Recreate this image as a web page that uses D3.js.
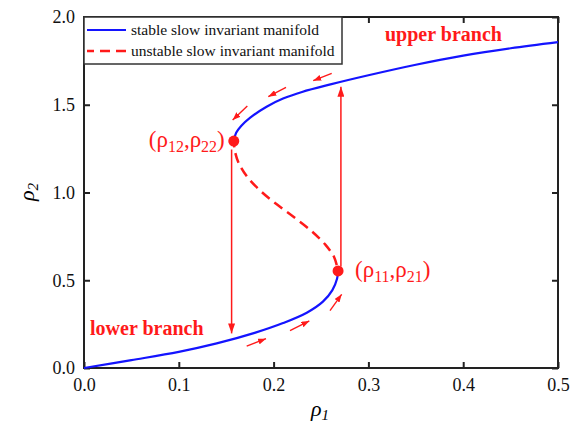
<!DOCTYPE html>
<html>
<head>
<meta charset="utf-8">
<script src="https://cdn.jsdelivr.net/npm/d3@7"></script>
<style>
  body { margin: 0; background: #fff; }
  text { font-family: "Liberation Serif", "Times New Roman", serif; }
</style>
</head>
<body>
<svg id="chart" width="583" height="426" font-family="Liberation Serif, serif"></svg>
<script>
// Lower stable branch of the slow invariant manifold (ρ1, ρ2)
const lowerRho1 = [0, 0.05, 0.10, 0.14, 0.18, 0.21, 0.235, 0.252, 0.262, 0.267, 0.268];
const lowerRho2 = [0, 0.045, 0.092, 0.140, 0.200, 0.256, 0.315, 0.378, 0.444, 0.510, 0.553];

// Unstable middle branch, from the lower fold to the upper fold
const unstableRho1 = [0.268, 0.264, 0.255, 0.240, 0.222, 0.204, 0.187, 0.172, 0.163, 0.159, 0.158];
const unstableRho2 = [0.553, 0.630, 0.700, 0.780, 0.857, 0.930, 1.005, 1.090, 1.170, 1.240, 1.293];

// Upper stable branch
const upperRho1 = [0.158, 0.1605, 0.166, 0.175, 0.1926, 0.21, 0.23, 0.26, 0.30, 0.35, 0.40, 0.45, 0.50];
const upperRho2 = [1.293, 1.340, 1.380, 1.425, 1.489, 1.535, 1.573, 1.616, 1.668, 1.728, 1.780, 1.822, 1.857];

// Fold points (ρ11, ρ21) and (ρ12, ρ22)
const foldRho1 = [0.268, 0.158];
const foldRho2 = [0.553, 1.293];

// Jumps between branches: ρ1, ρ2 start, ρ2 end
const jumpRho1 = [0.1557, 0.271];
const jumpFrom = [1.245, 0.578];
const jumpTo   = [0.197, 1.603];

// Short direction arrows along the stable branches: (x0, y0) -> (x1, y1)
const flowX0 = [0.2613, 0.2131, 0.1723, 0.1716, 0.2173, 0.2595];
const flowY0 = [1.679, 1.599, 1.493, 0.125, 0.2125, 0.3265];
const flowX1 = [0.2418, 0.1944, 0.1568, 0.1920, 0.2377, 0.2718];
const flowY1 = [1.637, 1.546, 1.413, 0.167, 0.268, 0.420];

const xTicks = [0, 0.1, 0.2, 0.3, 0.4, 0.5];
const yTicks = [0, 0.5, 1.0, 1.5, 2.0];

const svg = d3.select("#chart");
const x = d3.scaleLinear().domain([0, 0.5]).range([84, 558]);
const y = d3.scaleLinear().domain([0, 2]).range([368, 17]);
const red = "#ff1a1a", blue = "#1414ff", axisCol = "#222";
const serif = "Liberation Serif, serif";

const defs = svg.append("defs");
function marker(id, len, wid) {
  defs.append("marker").attr("id", id)
    .attr("markerUnits", "userSpaceOnUse")
    .attr("viewBox", `0 0 ${len} ${wid}`)
    .attr("refX", len).attr("refY", wid / 2)
    .attr("markerWidth", len).attr("markerHeight", wid)
    .attr("orient", "auto")
    .append("path").attr("d", `M0,0L${len},${wid / 2}L0,${wid}Z`).attr("fill", red);
}
marker("headBig", 10, 7);
marker("headSmall", 8, 6);

const fmt = d3.format(".1f");

// axes
const gB = svg.append("g").attr("transform", `translate(0,${y(0)})`)
  .call(d3.axisBottom(x).tickValues(xTicks).tickFormat(fmt).tickSizeInner(-6).tickSizeOuter(0).tickPadding(10));
const gT = svg.append("g").attr("transform", `translate(0,${y(2)})`)
  .call(d3.axisTop(x).tickValues(xTicks).tickFormat("").tickSizeInner(-6).tickSizeOuter(0));
const gL = svg.append("g").attr("transform", `translate(${x(0)},0)`)
  .call(d3.axisLeft(y).tickValues(yTicks).tickFormat(fmt).tickSizeInner(-6).tickSizeOuter(0).tickPadding(9));
const gR = svg.append("g").attr("transform", `translate(${x(0.5)},0)`)
  .call(d3.axisRight(y).tickValues(yTicks).tickFormat("").tickSizeInner(-6).tickSizeOuter(0));
[gB, gT, gL, gR].forEach(g => {
  g.attr("font-family", serif).attr("font-size", 18);
  g.select(".domain").remove();
  g.selectAll(".tick line").attr("stroke", axisCol).attr("stroke-width", 2);
  g.selectAll(".tick text").attr("fill", "#111").attr("font-family", serif).attr("font-size", 18);
});

// plot frame
svg.append("rect").attr("x", x(0)).attr("y", y(2))
  .attr("width", x(0.5) - x(0)).attr("height", y(0) - y(2))
  .attr("fill", "none").attr("stroke", axisCol).attr("stroke-width", 2);

// axis titles
svg.append("text").attr("x", 320).attr("y", 416).attr("text-anchor", "middle")
  .style("font-size", "22px").style("font-style", "italic")
  .html('ρ<tspan font-size="15" dy="4">1</tspan>');
svg.append("text").attr("transform", "translate(34,192) rotate(-90)").attr("text-anchor", "middle")
  .style("font-size", "22px").style("font-style", "italic")
  .html('ρ<tspan font-size="15" dy="4">2</tspan>');

const line = d3.line().x(d => x(d[0])).y(d => y(d[1])).curve(d3.curveCatmullRom.alpha(0.5));
const zip = (a, b) => a.map((v, i) => [v, b[i]]);

svg.append("path").datum(zip(lowerRho1, lowerRho2)).attr("d", line)
  .attr("fill", "none").attr("stroke", blue).attr("stroke-width", 2.2);
svg.append("path").datum(zip(upperRho1, upperRho2)).attr("d", line)
  .attr("fill", "none").attr("stroke", blue).attr("stroke-width", 2.2);
svg.append("path").datum(zip(unstableRho1, unstableRho2)).attr("d", line)
  .attr("fill", "none").attr("stroke", red).attr("stroke-width", 2.5)
  .attr("stroke-dasharray", "10,6").attr("stroke-dashoffset", -6);

// jump arrows
svg.selectAll(".jump").data(jumpRho1).join("line")
  .attr("x1", d => x(d)).attr("x2", d => x(d))
  .attr("y1", (d, i) => y(jumpFrom[i])).attr("y2", (d, i) => y(jumpTo[i]))
  .attr("stroke", red).attr("stroke-width", 1.5).attr("marker-end", "url(#headBig)");

// flow arrows
svg.selectAll(".flow").data(flowX0).join("line")
  .attr("x1", d => x(d)).attr("y1", (d, i) => y(flowY0[i]))
  .attr("x2", (d, i) => x(flowX1[i])).attr("y2", (d, i) => y(flowY1[i]))
  .attr("stroke", red).attr("stroke-width", 1.4).attr("marker-end", "url(#headSmall)");

// fold points
svg.selectAll(".fold").data(foldRho1).join("circle")
  .attr("cx", d => x(d)).attr("cy", (d, i) => y(foldRho2[i])).attr("r", 5.5).attr("fill", red);

// fold labels
const labels = [
  { sub: ["11", "21"], anchor: "start", dx: 17, dy: 6 },
  { sub: ["12", "22"], anchor: "end", dx: -9, dy: 6 }
];
labels.forEach((l, i) => {
  svg.append("text").attr("x", x(foldRho1[i]) + l.dx).attr("y", y(foldRho2[i]) + l.dy)
    .attr("text-anchor", l.anchor).attr("fill", red).style("font-size", "23px")
    .html(`(ρ<tspan font-size="16" dy="5">${l.sub[0]}</tspan><tspan dy="-5">,ρ</tspan><tspan font-size="16" dy="5">${l.sub[1]}</tspan><tspan dy="-5">)</tspan>`);
});

// branch names
svg.append("text").attr("x", 385).attr("y", 41).attr("fill", red)
  .style("font-size", "20px").style("font-weight", "bold").text("upper branch");
svg.append("text").attr("x", 90).attr("y", 335).attr("fill", red)
  .style("font-size", "20px").style("font-weight", "bold").text("lower branch");

// legend
const lg = svg.append("g");
lg.append("rect").attr("x", x(0)).attr("y", y(2)).attr("width", 258).attr("height", 47)
  .attr("fill", "#fff").attr("stroke", "#333").attr("stroke-width", 1.5);
lg.append("line").attr("x1", 87).attr("x2", 126).attr("y1", 30).attr("y2", 30)
  .attr("stroke", blue).attr("stroke-width", 2);
lg.append("line").attr("x1", 87).attr("x2", 126).attr("y1", 51).attr("y2", 51)
  .attr("stroke", red).attr("stroke-width", 2.5).attr("stroke-dasharray", "10,6").attr("stroke-dashoffset", 3);
lg.append("text").attr("x", 131).attr("y", 35).style("font-size", "15.5px").attr("fill", "#111")
  .text("stable slow invariant manifold");
lg.append("text").attr("x", 131).attr("y", 56).style("font-size", "15.5px").attr("fill", "#111")
  .text("unstable slow invariant manifold");
</script>
</body>
</html>
